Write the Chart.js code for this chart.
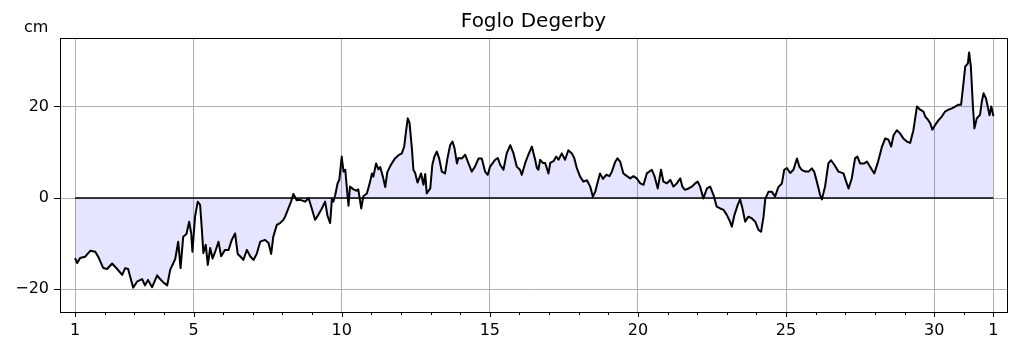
<!DOCTYPE html>
<html>
<head>
<meta charset="utf-8">
<title>Foglo Degerby</title>
<script src="https://cdn.jsdelivr.net/npm/chart.js@4.4.1/dist/chart.umd.min.js"></script>
<style>
    html, body { margin: 0; padding: 0; background: #fff; }
    #wrap { width: 1019px; height: 352px; }
</style>
</head>
<body>
<div id="wrap"><canvas id="chart" width="1019" height="352"></canvas></div>
<script>
// sea level readings, day of month (fractional) and cm
const days = [
    1.00, 1.07, 1.17, 1.34, 1.51, 1.68, 1.78, 1.95, 2.08, 2.25, 2.42, 2.59, 2.69, 2.79, 2.96,
    3.09, 3.26, 3.36, 3.46, 3.60, 3.77, 3.87, 3.97, 4.11, 4.21, 4.38, 4.48, 4.56, 4.65, 4.76,
    4.85, 4.92, 4.96, 5.05, 5.14, 5.22, 5.28, 5.33, 5.41, 5.48, 5.56, 5.64, 5.73, 5.84, 5.93,
    6.06, 6.18, 6.29, 6.40, 6.49, 6.57, 6.68, 6.80, 6.91, 7.02, 7.13, 7.25, 7.41, 7.53, 7.62,
    7.69, 7.81, 7.92, 8.03, 8.09, 8.20, 8.29, 8.37, 8.48, 8.60, 8.77, 8.88, 8.99, 9.10, 9.21,
    9.33, 9.44, 9.52, 9.61, 9.67, 9.72, 9.78, 9.86, 9.92, 10.00, 10.06, 10.12, 10.17, 10.23, 10.28,
    10.40, 10.51, 10.56, 10.66, 10.73, 10.85, 10.96, 11.02, 11.07, 11.16, 11.24, 11.30, 11.39, 11.47, 11.54,
    11.63, 11.73, 11.80, 11.92, 12.03, 12.11, 12.17, 12.23, 12.29, 12.37, 12.42, 12.48, 12.56, 12.68, 12.76,
    12.82, 12.87, 12.99, 13.06, 13.13, 13.21, 13.29, 13.38, 13.49, 13.57, 13.66, 13.74, 13.81, 13.89, 13.94,
    14.06, 14.17, 14.28, 14.39, 14.50, 14.62, 14.73, 14.84, 14.93, 15.01, 15.09, 15.18, 15.27, 15.35, 15.46,
    15.57, 15.69, 15.80, 15.91, 16.02, 16.08, 16.19, 16.30, 16.42, 16.53, 16.59, 16.64, 16.70, 16.79, 16.87,
    16.98, 17.04, 17.15, 17.24, 17.32, 17.43, 17.54, 17.65, 17.77, 17.85, 17.94, 18.05, 18.16, 18.28, 18.39,
    18.48, 18.56, 18.63, 18.72, 18.82, 18.93, 19.04, 19.12, 19.23, 19.31, 19.40, 19.51, 19.63, 19.74, 19.85,
    19.96, 20.08, 20.19, 20.30, 20.47, 20.56, 20.67, 20.78, 20.86, 20.98, 21.09, 21.20, 21.31, 21.43, 21.50,
    21.59, 21.71, 21.82, 21.93, 22.02, 22.10, 22.21, 22.33, 22.44, 22.55, 22.66, 22.78, 22.89, 23.00, 23.11,
    23.17, 23.26, 23.37, 23.45, 23.53, 23.62, 23.73, 23.85, 23.96, 24.07, 24.16, 24.24, 24.30, 24.41, 24.52,
    24.63, 24.74, 24.86, 24.94, 25.03, 25.14, 25.25, 25.37, 25.45, 25.53, 25.65, 25.76, 25.87, 25.95, 26.04,
    26.15, 26.21, 26.32, 26.43, 26.52, 26.63, 26.77, 26.94, 27.03, 27.11, 27.22, 27.33, 27.41, 27.50, 27.64,
    27.73, 27.90, 27.98, 28.09, 28.18, 28.24, 28.35, 28.46, 28.55, 28.63, 28.74, 28.85, 28.96, 29.08, 29.19,
    29.30, 29.42, 29.53, 29.64, 29.70, 29.79, 29.87, 29.94, 30.03, 30.15, 30.26, 30.37, 30.48, 30.60, 30.71,
    30.82, 30.91, 30.99, 31.05, 31.14, 31.18, 31.24, 31.31, 31.36, 31.44, 31.55, 31.61, 31.67, 31.75, 31.81,
    31.87, 31.93, 32.00
];
const levels = [
    -13.2, -14.3, -13.2, -12.9, -11.6, -11.8, -12.9, -15.4, -15.6, -14.4, -15.6, -16.9, -15.4, -15.6, -19.7,
    -18.4, -17.8, -19.2, -18.0, -19.6, -17.0, -17.8, -18.5, -19.2, -15.8, -13.4, -9.6, -15.4, -8.5, -7.9,
    -5.2, -7.8, -11.8, -4.1, -0.8, -1.5, -7.0, -12.1, -10.3, -14.7, -11.0, -13.3, -11.8, -9.6, -12.8,
    -11.4, -11.4, -9.2, -7.8, -12.3, -12.8, -13.6, -11.4, -12.8, -13.6, -12.3, -9.6, -9.2, -9.9, -12.3,
    -8.5, -5.9, -5.5, -4.8, -4.1, -2.3, -0.8, 0.9, -0.5, -0.4, -0.8, 0.0, -2.3, -4.8, -3.7,
    -2.3, -0.8, -3.9, -5.5, -0.1, -0.8, 0.6, 3.2, 4.0, 9.1, 5.8, 6.2, 2.5, -1.7, 2.5,
    1.9, 1.6, 1.9, -2.3, 0.4, 1.0, 3.6, 5.4, 4.7, 7.6, 6.3, 6.8, 4.7, 2.4, 5.7,
    6.9, 8.0, 8.7, 9.4, 9.8, 11.3, 14.6, 17.5, 16.5, 10.9, 6.2, 5.5, 3.4, 5.4, 2.9,
    5.3, 1.0, 2.1, 7.3, 9.1, 10.2, 8.7, 5.8, 5.4, 8.7, 11.6, 12.4, 10.9, 7.6, 8.8,
    8.7, 9.5, 7.6, 5.8, 6.9, 8.7, 8.7, 5.8, 5.1, 6.9, 7.6, 8.4, 8.8, 7.3, 6.2,
    9.8, 11.6, 9.8, 6.9, 6.2, 5.1, 7.6, 9.5, 11.3, 8.4, 6.6, 6.2, 8.4, 7.7, 7.7,
    5.4, 7.7, 8.1, 9.1, 8.4, 9.8, 8.4, 10.5, 9.8, 8.8, 6.5, 4.7, 3.6, 3.9, 2.5,
    0.3, 1.4, 3.2, 5.4, 4.2, 5.1, 4.8, 5.8, 7.9, 8.7, 8.0, 5.4, 4.8, 4.3, 4.8,
    4.3, 3.2, 2.9, 5.4, 6.2, 4.8, 2.1, 6.2, 3.6, 3.2, 4.0, 2.5, 3.2, 4.3, 2.5,
    1.8, 2.1, 2.5, 3.2, 3.6, 2.5, -0.1, 2.1, 2.5, 0.7, -1.9, -2.3, -2.6, -3.7, -5.2,
    -6.3, -3.7, -1.5, -0.3, -2.3, -5.2, -4.1, -4.5, -5.2, -7.0, -7.4, -4.1, -0.2, 1.4, 1.4,
    0.3, 2.4, 3.2, 6.2, 6.6, 5.5, 6.2, 8.7, 6.9, 6.2, 5.8, 5.8, 6.5, 5.8, 3.6,
    0.7, -0.3, 2.6, 7.6, 8.3, 7.3, 5.8, 5.4, 3.6, 2.1, 4.3, 8.7, 9.1, 7.6, 7.6,
    8.0, 6.2, 5.4, 7.6, 9.8, 11.3, 13.1, 12.8, 11.3, 13.8, 14.9, 14.2, 13.1, 12.4, 12.1,
    14.9, 20.1, 19.4, 19.0, 17.9, 17.2, 16.4, 15.0, 16.0, 17.1, 17.9, 19.0, 19.4, 19.7, 20.1,
    20.5, 20.5, 25.2, 28.9, 29.6, 32.0, 28.9, 20.1, 15.3, 17.5, 18.3, 21.2, 23.0, 21.9, 20.1,
    18.2, 20.1, 18.0
];

// x axis: one tick per day, labels only on these
const majorDays = [1, 5, 10, 15, 20, 25, 30, 32];
const dayLabels = ['1', '5', '10', '15', '20', '25', '30', '1'];
const yTicks = [-20, 0, 20];

const FONT = "'DejaVu Sans', sans-serif";

const points = days.map((d, i) => ({ x: d, y: levels[i] }));
const zeroLine = [{ x: days[0], y: 0 }, { x: days[days.length - 1], y: 0 }];

// frame, small day ticks and the unit text
const extras = {
    id: 'extras',
    afterDraw(chart) {
        const ctx = chart.ctx;
        const area = chart.chartArea;
        const xs = chart.scales.x;
        ctx.save();
        ctx.strokeStyle = '#000';
        ctx.lineWidth = 1;
        ctx.beginPath();
        for (let d = 1; d <= 32; d++) {
            const px = Math.round(xs.getPixelForValue(d)) + 0.5;
            const len = majorDays.includes(d) ? 5 : 3;
            ctx.moveTo(px, area.bottom);
            ctx.lineTo(px, area.bottom + len);
        }
        ctx.stroke();
        ctx.strokeRect(Math.round(area.left) + 0.5, Math.round(area.top) + 0.5,
            Math.round(area.right - area.left), Math.round(area.bottom - area.top));
        ctx.fillStyle = '#000';
        ctx.font = '16px ' + FONT;
        ctx.textAlign = 'left';
        ctx.textBaseline = 'alphabetic';
        ctx.fillText('cm', 24, 32);
        ctx.restore();
    }
};

new Chart(document.getElementById('chart'), {
    type: 'line',
    data: {
        datasets: [
            {
                data: points,
                borderColor: '#000',
                borderWidth: 2,
                borderJoinStyle: 'round',
                pointRadius: 0,
                tension: 0,
                fill: 'origin',
                backgroundColor: 'rgba(0, 0, 255, 0.1)'
            },
            {
                data: zeroLine,
                borderColor: '#000',
                borderWidth: 1.3,
                pointRadius: 0,
                fill: false
            }
        ]
    },
    options: {
        responsive: false,
        animation: false,
        events: [],
        layout: { padding: { left: 0, right: 12, top: 0, bottom: 0 } },
        plugins: {
            legend: { display: false },
            tooltip: { enabled: false },
            filler: { drawTime: 'beforeDatasetsDraw' },
            title: {
                display: true,
                text: 'Foglo Degerby',
                fullSize: false,
                color: '#000',
                font: { family: FONT, size: 20, weight: 'normal', lineHeight: 1.2 },
                padding: { top: 10, bottom: 4 }
            }
        },
        scales: {
            x: {
                type: 'linear',
                min: 0.49,
                max: 32.46,
                afterBuildTicks: (scale) => {
                    const t = [];
                    for (let d = 1; d <= 32; d++) t.push({ value: d });
                    scale.ticks = t;
                },
                afterFit: (scale) => { scale.height = 40; },
                border: { display: false },
                grid: {
                    drawTicks: false,
                    lineWidth: 1,
                    color: (c) => (c.tick && majorDays.includes(c.tick.value)) ? '#b0b0b0' : 'rgba(0,0,0,0)'
                },
                ticks: {
                    autoSkip: false,
                    maxRotation: 0,
                    padding: 9,
                    color: '#000',
                    font: { family: FONT, size: 16 },
                    callback: (v) => {
                        const k = majorDays.indexOf(v);
                        return k >= 0 ? dayLabels[k] : '';
                    }
                }
            },
            y: {
                min: -25.05,
                max: 35.16,
                afterBuildTicks: (scale) => {
                    scale.ticks = yTicks.map(v => ({ value: v }));
                },
                afterFit: (scale) => { scale.width = 60; },
                border: { display: false },
                grid: {
                    color: '#b0b0b0',
                    lineWidth: 1,
                    tickColor: '#000',
                    tickLength: 6
                },
                ticks: {
                    padding: 5,
                    color: '#000',
                    font: { family: FONT, size: 16 },
                    callback: (v) => String(v).replace('-', '\u2212')
                }
            }
        }
    },
    plugins: [extras]
});
</script>
</body>
</html>
